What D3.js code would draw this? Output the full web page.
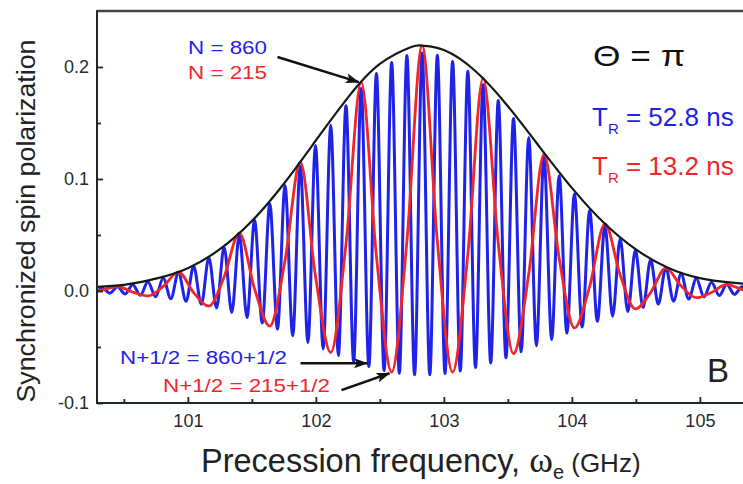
<!DOCTYPE html>
<html>
<head>
<meta charset="utf-8">
<script src="https://cdn.jsdelivr.net/npm/d3@7"></script>
<style>
body { margin: 0; background: #fff; overflow: hidden; }
text { font-family: "Liberation Sans", Arial, sans-serif; }
</style>
</head>
<body>
<script>
// Gaussian envelope (black)
var envFreq = [100.25, 100.50, 100.75, 101.00, 101.25, 101.50, 101.75, 102.00, 102.25, 102.50, 102.75, 102.83,
               103.00, 103.25, 103.50, 103.75, 104.00, 104.25, 104.50, 104.75, 105.00, 105.25, 105.50];
var envPol = [0.0035, 0.0055, 0.0110, 0.0204, 0.0373, 0.0625, 0.0958, 0.1344, 0.1726, 0.2027, 0.2180, 0.2190,
              0.2151, 0.1960, 0.1650, 0.1283, 0.0921, 0.0609, 0.0371, 0.0208, 0.0115, 0.0075, 0.0050];

// N = 215, T_R = 13.2 ns (red)
var redFreq = [100.212, 100.331, 100.450, 100.569, 100.688, 100.807, 100.926, 101.045, 101.164, 101.283,
               101.402, 101.521, 101.640, 101.759, 101.878, 101.997, 102.116, 102.235, 102.354, 102.473,
               102.592, 102.711, 102.830, 102.949, 103.068, 103.187, 103.306, 103.425, 103.544, 103.663,
               103.782, 103.901, 104.020, 104.139, 104.258, 104.377, 104.496, 104.615, 104.734, 104.853,
               104.972, 105.091, 105.210, 105.329, 105.448];
var redPol = [-0.0011, 0.0009, 0.0040, -0.0010, -0.0044, 0.0041, 0.0168, -0.0014, -0.0135, 0.0125,
              0.0516, 0.0019, -0.0313, 0.0273, 0.1152, 0.0132, -0.0548, 0.0417, 0.1865, 0.0312,
              -0.0724, 0.0442, 0.2190, 0.0442, -0.0724, 0.0326, 0.1900, 0.0424, -0.0560, 0.0152,
              0.1220, 0.0290, -0.0330, 0.0042, 0.0600, 0.0144, -0.0160, -0.0014, 0.0205, 0.0046,
              -0.0060, -0.0013, 0.0058, 0.0013, -0.0017];

// N = 860, T_R = 52.8 ns (blue), peaks and troughs
var blueFreq = [100.212, 100.272, 100.331, 100.391, 100.450, 100.510, 100.569, 100.629, 100.688, 100.748,
                100.807, 100.867, 100.926, 100.986, 101.045, 101.105, 101.164, 101.224, 101.283, 101.343,
                101.402, 101.462, 101.521, 101.581, 101.640, 101.700, 101.759, 101.819, 101.878, 101.938,
                101.997, 102.057, 102.116, 102.176, 102.235, 102.295, 102.354, 102.414, 102.473, 102.533,
                102.592, 102.652, 102.711, 102.771, 102.830, 102.890, 102.949, 103.009, 103.068, 103.128,
                103.187, 103.247, 103.306, 103.366, 103.425, 103.485, 103.544, 103.604, 103.663, 103.723,
                103.782, 103.842, 103.901, 103.961, 104.020, 104.080, 104.139, 104.199, 104.258, 104.318,
                104.377, 104.437, 104.496, 104.556, 104.615, 104.675, 104.734, 104.794, 104.853, 104.913,
                104.972, 105.032, 105.091, 105.151, 105.210, 105.270, 105.329, 105.389, 105.448];
var bluePol = [0.0016, -0.0013, 0.0025, -0.0019, 0.0039, -0.0027, 0.0056, -0.0038, 0.0082, -0.0052,
               0.0116, -0.0069, 0.0163, -0.0092, 0.0222, -0.0119, 0.0297, -0.0152, 0.0390, -0.0191,
               0.0501, -0.0236, 0.0631, -0.0286, 0.0779, -0.0341, 0.0942, -0.0399, 0.1117, -0.0459,
               0.1299, -0.0518, 0.1480, -0.0576, 0.1653, -0.0628, 0.1809, -0.0674, 0.1941, -0.0710,
               0.2041, -0.0735, 0.2103, -0.0748, 0.2124, -0.0748, 0.2105, -0.0737, 0.2050, -0.0715,
               0.1961, -0.0683, 0.1842, -0.0642, 0.1700, -0.0596, 0.1540, -0.0543, 0.1371, -0.0488,
               0.1198, -0.0432, 0.1028, -0.0376, 0.0867, -0.0322, 0.0718, -0.0271, 0.0583, -0.0226,
               0.0465, -0.0185, 0.0363, -0.0148, 0.0279, -0.0117, 0.0210, -0.0091, 0.0154, -0.0071,
               0.0112, -0.0053, 0.0079, -0.0040, 0.0057, -0.0030, 0.0038, -0.0022, 0.0025];

var xTicks = [101, 102, 103, 104, 105];
var xMinor = [100.5, 101.5, 102.5, 103.5, 104.5, 105.5];
var yTicks = [-0.1, 0.0, 0.1, 0.2];
var yMinor = [-0.05, 0.05, 0.15];

// annotation arrows in data units [x1, y1, x2, y2]
var arrows = [
    [101.70, 0.209, 102.335, 0.1865],
    [101.88, -0.0645, 102.40, -0.0645],
    [102.20, -0.0885, 102.575, -0.0735]
];

var blue = "#1f22e8", red = "#f0262a", ink = "#111a16";

var svg = d3.select("body")
    .append("svg")
    .attr("width", 743)
    .attr("height", 484);

var margin = {top: 11, left: 97, bottom: 403};

var xScale = d3.scaleLinear()
    .domain([100.29, 105.6])
    .range([margin.left, margin.left + 5.31 * 128]);

var yScale = d3.scaleLinear()
    .domain([-0.1, 0.25])
    .range([margin.bottom, margin.top]);

svg.append("clipPath").attr("id", "plot")
    .append("rect")
    .attr("x", xScale(100.29)).attr("y", yScale(0.25))
    .attr("width", xScale(105.6) - xScale(100.29))
    .attr("height", yScale(-0.1) - yScale(0.25));

var line = d3.line()
    .x(d => xScale(d[0]))
    .y(d => yScale(d[1]))
    .curve(d3.curveMonotoneX);

var curves = svg.append("g").attr("clip-path", "url(#plot)");

curves.append("path")
    .attr("d", line(d3.zip(blueFreq, bluePol)))
    .attr("fill", "none")
    .attr("stroke", blue)
    .attr("stroke-width", 3);

curves.append("path")
    .attr("d", line(d3.zip(redFreq, redPol)))
    .attr("fill", "none")
    .attr("stroke", red)
    .attr("stroke-width", 2.8);

curves.append("path")
    .attr("d", line.curve(d3.curveNatural)(d3.zip(envFreq, envPol)))
    .attr("fill", "none")
    .attr("stroke", ink)
    .attr("stroke-width", 2.2);

// axes with inward ticks
svg.append("g")
    .attr("transform", `translate(0,${margin.bottom})`)
    .call(d3.axisBottom(xScale).tickValues(xTicks).tickSize(-6).tickPadding(11).tickFormat(d3.format("d")));
svg.append("g")
    .attr("transform", `translate(0,${margin.bottom})`)
    .call(d3.axisBottom(xScale).tickValues(xMinor).tickSize(-4).tickFormat(""));

svg.append("g")
    .attr("transform", `translate(${margin.left},0)`)
    .call(d3.axisLeft(yScale).tickValues(yTicks).tickSize(-6).tickPadding(8).tickFormat(d => d.toFixed(1)));
svg.append("g")
    .attr("transform", `translate(${margin.left},0)`)
    .call(d3.axisLeft(yScale).tickValues(yMinor).tickSize(-4).tickFormat(""));

svg.selectAll(".domain").remove();
svg.selectAll(".tick line").attr("stroke", "#1d2a24").attr("stroke-width", 1.8);
svg.selectAll(".tick text")
    .attr("font-size", 18)
    .attr("font-family", "Liberation Sans, Arial, sans-serif")
    .attr("fill", "#2a2a2a");

// frame
svg.append("rect")
    .attr("x", xScale(100.29)).attr("y", yScale(0.25))
    .attr("width", xScale(105.6) - xScale(100.29))
    .attr("height", yScale(-0.1) - yScale(0.25))
    .attr("fill", "none")
    .attr("stroke", "#1d2a24")
    .attr("stroke-width", 2);
svg.append("line")
    .attr("x1", xScale(100.29)).attr("x2", 743)
    .attr("y1", yScale(0.25)).attr("y2", yScale(0.25))
    .attr("stroke", "#444").attr("stroke-width", 2.6);

// arrow heads
svg.append("defs").append("marker")
    .attr("id", "head")
    .attr("markerUnits", "userSpaceOnUse")
    .attr("markerWidth", 14).attr("markerHeight", 10)
    .attr("refX", 13).attr("refY", 5)
    .attr("orient", "auto")
    .append("path")
    .attr("d", "M0,0 L14,5 L0,10 L3,5 Z")
    .attr("fill", "#111");

svg.selectAll(".arrow")
    .data(arrows)
    .enter()
    .append("line")
    .attr("class", "arrow")
    .attr("x1", d => xScale(d[0])).attr("y1", d => yScale(d[1]))
    .attr("x2", d => xScale(d[2])).attr("y2", d => yScale(d[3]))
    .attr("stroke", "#111")
    .attr("stroke-width", 2.6)
    .attr("marker-end", "url(#head)");

// labels
function label(x, y, txt, size, color, len) {
    var t = svg.append("text")
        .attr("x", x).attr("y", y)
        .attr("font-size", size)
        .attr("fill", color)
        .text(txt);
    if (len) t.attr("textLength", len).attr("lengthAdjust", "spacingAndGlyphs");
    return t;
}

label(188, 54, "N = 860", 19, blue, 79);
label(188, 79, "N = 215", 19, red, 79);
label(120, 364, "N+1/2 = 860+1/2", 18, blue, 167);
label(163, 392, "N+1/2 = 215+1/2", 18, red, 167);
label(707, 382, "B", 33, "#222");

var theta = label(593, 66, "\u0398 = \u03c0", 29, "#111", 92);
theta.attr("font-family", "Liberation Serif, serif");

function period(y, value, color) {
    var t = svg.append("text")
        .attr("x", 592).attr("y", y)
        .attr("font-size", 26)
        .attr("fill", color);
    t.append("tspan").text("T");
    t.append("tspan").attr("font-size", 15).attr("dy", 8).text("R");
    t.append("tspan").attr("dy", -8).text(" = " + value + " ns");
}
period(126, "52.8", blue);
period(175, "13.2", red);

// axis titles
svg.append("text")
    .attr("transform", "translate(35,221) rotate(-90)")
    .attr("text-anchor", "middle")
    .attr("font-size", 25)
    .attr("fill", "#222")
    .attr("textLength", 363)
    .attr("lengthAdjust", "spacingAndGlyphs")
    .text("Synchronized spin polarization");

var xt = svg.append("text")
    .attr("x", 201).attr("y", 472)
    .attr("font-size", 32.5)
    .attr("fill", "#222");
xt.append("tspan").text("Precession frequency, ");
xt.append("tspan").attr("font-family", "Liberation Serif, serif").attr("font-size", 36).text("\u03c9");
xt.append("tspan").attr("font-size", 20).attr("dy", 7).text("e");
xt.append("tspan").attr("font-size", 26).attr("dy", -7).text(" (GHz)");
</script>
</body>
</html>
